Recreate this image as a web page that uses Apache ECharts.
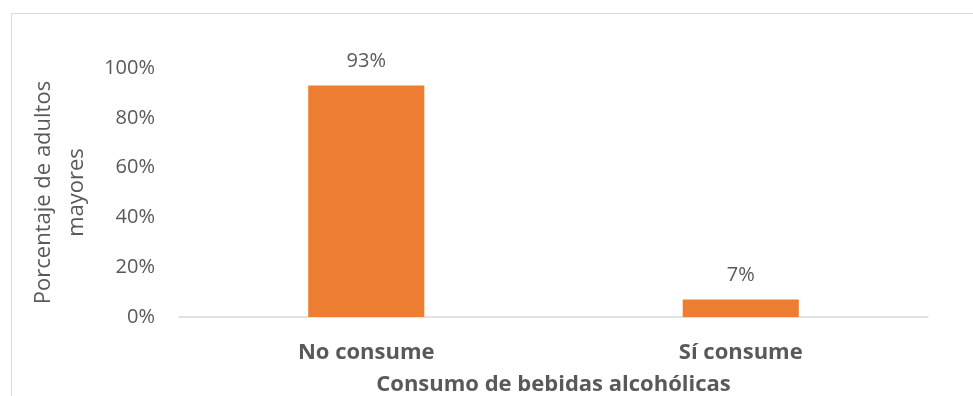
<!DOCTYPE html>
<html>
<head>
<meta charset="utf-8">
<script src="https://cdn.jsdelivr.net/npm/echarts@6/dist/echarts.min.js"></script>
<style>
  html, body { margin: 0; padding: 0; background: #ffffff; }
  #chart { width: 973px; height: 396px; }
</style>
</head>
<body>
<div id="chart"></div>
<script>
// Consumo de bebidas alcohólicas en adultos mayores
const categories = ['No consume', 'Sí consume'];
const percentValues = [93, 7];
const yTicks = [0, 20, 40, 60, 80, 100];

const FONT = '"Open Sans", "Noto Sans", sans-serif';
const TEXT_COLOR = '#595959';

const chart = echarts.init(document.getElementById('chart'), null, { renderer: 'canvas' });

chart.setOption({
  animation: false,
  backgroundColor: '#ffffff',
  graphic: [{
    type: 'rect',
    shape: { x: 11.5, y: 13.5, width: 980, height: 420 },
    style: { fill: 'none', stroke: '#d9d9d9', lineWidth: 1 },
    silent: true,
    z: -1
  }],
  grid: {
    left: 179, right: 45, top: 68, bottom: 79,
    containLabel: false,
    outerBoundsMode: 'none'
  },
  xAxis: {
    type: 'category',
    data: categories,
    name: 'Consumo de bebidas alcohólicas',
    nameLocation: 'middle',
    nameGap: 57,
    nameTextStyle: { fontFamily: FONT, fontSize: 22, fontWeight: 'bold', color: TEXT_COLOR },
    axisLine: { lineStyle: { color: '#d9d9d9', width: 1.5 } },
    axisTick: { show: false },
    axisLabel: { fontFamily: FONT, fontSize: 22, fontWeight: 'bold', color: TEXT_COLOR, margin: 25 }
  },
  yAxis: {
    type: 'value',
    min: yTicks[0],
    max: yTicks[yTicks.length - 1],
    interval: yTicks[1] - yTicks[0],
    name: 'Porcentaje de adultos\nmayores',
    nameLocation: 'middle',
    nameGap: 78,
    nameTextStyle: { fontFamily: FONT, fontSize: 22, color: TEXT_COLOR, lineHeight: 33 },
    axisLine: { show: false },
    axisTick: { show: false },
    splitLine: { show: false },
    axisLabel: {
      fontFamily: FONT, fontSize: 20, color: TEXT_COLOR, margin: 24,
      formatter: v => v + '%'
    }
  },
  series: [{
    type: 'bar',
    data: percentValues,
    barWidth: '31%',
    itemStyle: { color: '#ED7D31' },
    label: {
      show: true,
      position: 'top',
      distance: 14,
      fontFamily: FONT,
      fontSize: 20,
      color: TEXT_COLOR,
      formatter: p => p.value + '%'
    }
  }]
});
</script>
</body>
</html>
